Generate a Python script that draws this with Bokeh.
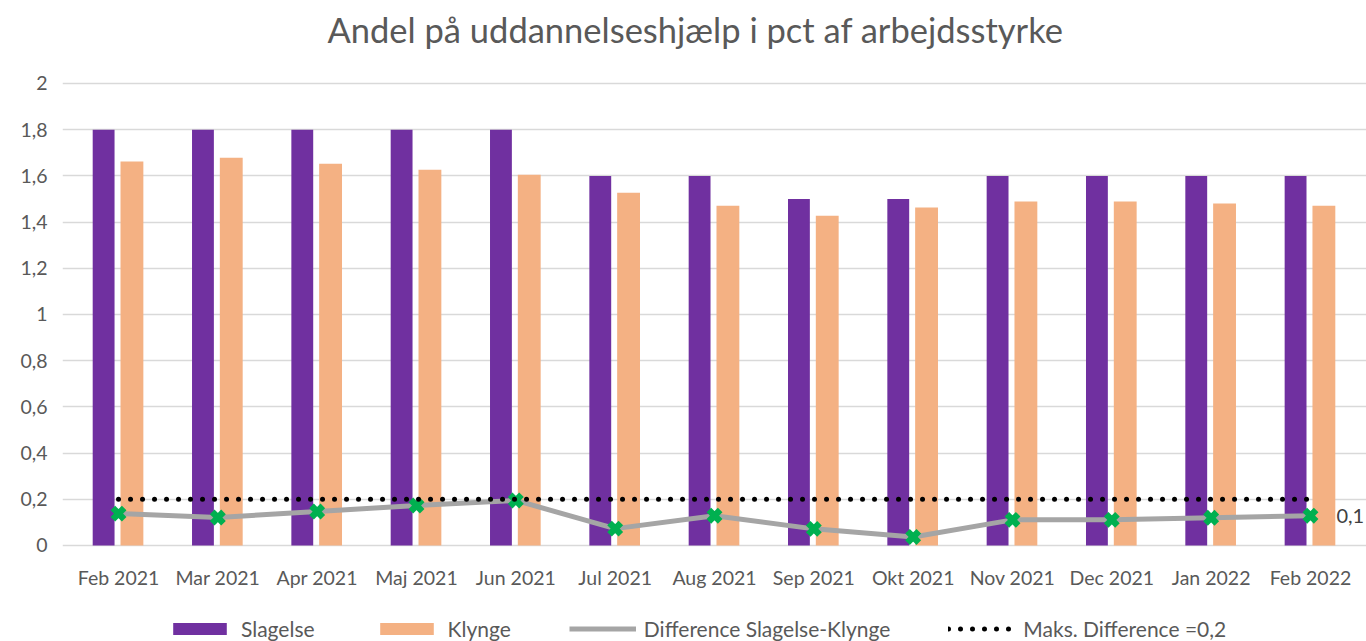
from bokeh.plotting import figure
from bokeh.models import (ColumnDataSource, FactorRange, Range1d, Legend, LegendItem,
                          FixedTicker, CustomJSTickFormatter, Label)
from bokeh.transform import dodge
from bokeh.core.properties import value
from bokeh.embed import file_html
from bokeh.resources import INLINE

months = ["Feb 2021", "Mar 2021", "Apr 2021", "Maj 2021", "Jun 2021", "Jul 2021",
          "Aug 2021", "Sep 2021", "Okt 2021", "Nov 2021", "Dec 2021", "Jan 2022", "Feb 2022"]
slagelse = [1.8, 1.8, 1.8, 1.8, 1.8, 1.6, 1.6, 1.5, 1.5, 1.6, 1.6, 1.6, 1.6]
klynge = [1.662, 1.679, 1.653, 1.627, 1.605, 1.527, 1.471, 1.428, 1.463, 1.489, 1.489, 1.480, 1.471]
difference = [0.138, 0.121, 0.147, 0.173, 0.195, 0.073, 0.129, 0.072, 0.037, 0.111, 0.111, 0.120, 0.129]
maks = [0.2, 0.2, 0.2, 0.2, 0.2, 0.2, 0.2, 0.2, 0.2, 0.2, 0.2, 0.2, 0.2]
y_ticks = [0, 0.2, 0.4, 0.6, 0.8, 1.0, 1.2, 1.4, 1.6, 1.8, 2.0]
title_text = "Andel på uddannelseshjælp i pct af arbejdsstyrke"

FONT = "Lato"
TXT = "#595959"

src = ColumnDataSource(dict(months=months, slagelse=slagelse, klynge=klynge,
                            difference=difference, maks=maks))

# The frame covers the whole canvas height, so that title, category labels and
# legend can be laid out inside it; the value axis itself runs from 0 to 2.
p = figure(x_range=FactorRange(factors=months, range_padding=0.064,
                               range_padding_units="absolute"),
           y_range=Range1d(-0.4156, 2.3593),
           frame_width=1304, frame_height=641, output_backend="svg", toolbar_location=None,
           min_border_left=62, min_border_right=0, min_border_top=0, min_border_bottom=0,
           outline_line_color=None, background_fill_color="white", border_fill_color="white")

p.add_layout(Label(x=633, y=612, x_units="screen", y_units="screen", text=title_text,
                   text_align="center", text_baseline="middle", text_font=FONT,
                   text_font_size="34.5px", text_color=TXT))

r_s = p.vbar(x=dodge("months", -0.15, range=p.x_range), top="slagelse", width=0.22,
             source=src, fill_color="#7030A0", line_color=None)
r_k = p.vbar(x=dodge("months", 0.135, range=p.x_range), top="klynge", width=0.23,
             source=src, fill_color="#F4B183", line_color=None)
r_d = p.line(x="months", y="difference", source=src, line_color="#A5A5A5", line_width=5)
p.scatter(x="months", y="difference", source=src, marker="x", size=16,
          line_color="#00B050", line_width=6.5)
r_m = p.line(x="months", y="maks", source=src, line_color="black", line_width=5,
             line_dash="0 12", line_cap="round")

# category labels under the zero line
p.text(x="months", y=0, text="months", source=src, y_offset=32, text_align="center",
       text_baseline="middle", text_font=value(FONT), text_font_size="19.5px",
       text_color=TXT)

last_label = [str(round(difference[-1], 1)).replace(".", ",")]
lab_src = ColumnDataSource(dict(x=[months[-1]], y=[difference[-1]], t=last_label))
p.text(x="x", y="y", text="t", source=lab_src, x_offset=26, text_baseline="middle",
       text_font=value(FONT), text_font_size="20px", text_color="#404040")

p.xaxis.visible = False
p.xgrid.grid_line_color = None
p.ygrid.ticker = FixedTicker(ticks=y_ticks)
p.ygrid.grid_line_color = "#D9D9D9"
p.ygrid.grid_line_width = 1.5
p.yaxis.ticker = FixedTicker(ticks=y_ticks)
p.yaxis.formatter = CustomJSTickFormatter(
    code="return (Math.round(tick*10)/10).toString().replace('.', ',');")
p.yaxis.axis_line_color = None
p.yaxis.major_tick_line_color = None
p.yaxis.minor_tick_line_color = None
p.yaxis.major_tick_out = 0
p.yaxis.major_tick_in = 0
p.yaxis.major_label_standoff = 15
p.yaxis.major_label_text_font = FONT
p.yaxis.major_label_text_font_size = "19.5px"
p.yaxis.major_label_text_color = TXT

legend = Legend(items=[
    LegendItem(label="Slagelse", renderers=[r_s]),
    LegendItem(label="Klynge", renderers=[r_k]),
    LegendItem(label="Difference Slagelse-Klynge", renderers=[r_d]),
    LegendItem(label="Maks. Difference =0,2", renderers=[r_m]),
], orientation="horizontal", location=(104, 0), glyph_width=67, glyph_height=15,
    label_standoff=8, spacing=58, padding=0, margin=0, border_line_color=None,
    label_text_font=FONT, label_text_font_size="21px", label_text_color=TXT,
    background_fill_alpha=0)
p.add_layout(legend, "center")

open("out.html", "w").write(file_html(p, INLINE))
